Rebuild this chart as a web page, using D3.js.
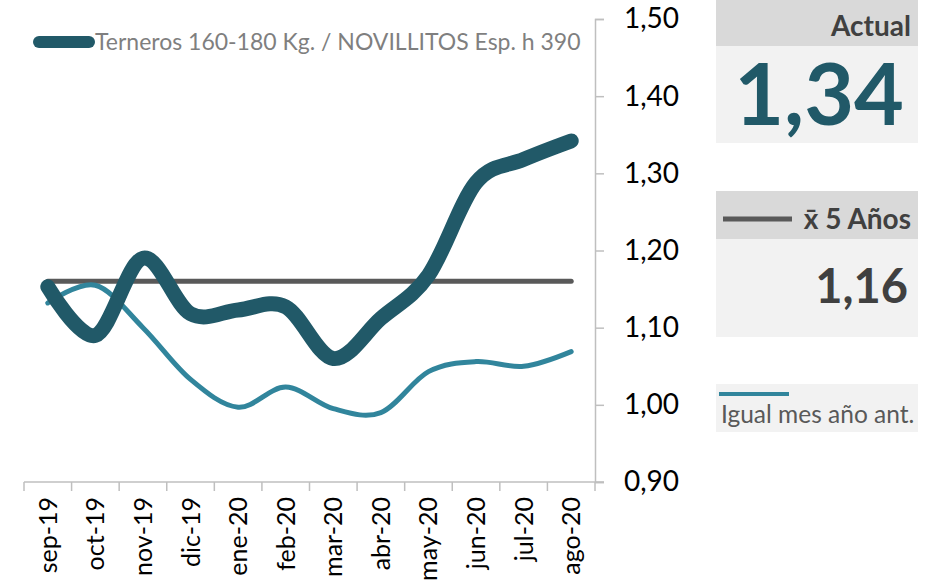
<!DOCTYPE html>
<html>
<head>
<meta charset="utf-8">
<script src="https://cdn.jsdelivr.net/npm/d3@7"></script>
<style>
  body { margin: 0; background: #fff; }
  svg { font-family: Lato, 'Open Sans', sans-serif; }
</style>
</head>
<body>
<div id="chart"></div>
<script>
const width = 941;
const height = 583;

// Data =================================================================
const months = ['sep-19', 'oct-19', 'nov-19', 'dic-19', 'ene-20', 'feb-20', 'mar-20', 'abr-20', 'may-20', 'jun-20', 'jul-20', 'ago-20'];
const ratioActual = [1.153, 1.09, 1.19, 1.118, 1.123, 1.127, 1.06, 1.112, 1.168, 1.288, 1.318, 1.342];
const ratioPrevYear = [1.132, 1.155, 1.1, 1.033, 0.997, 1.023, 0.995, 0.99, 1.043, 1.056, 1.05, 1.069];
const avg5Years = 1.16;
const yTicks = [0.9, 1.0, 1.1, 1.2, 1.3, 1.4, 1.5];
const legendLabel = 'Terneros 160-180 Kg. / NOVILLITOS Esp. h 390';
// =================================================================

const fmt = (v) => d3.format('.2f')(v).replace('.', ',');

const svg = d3.select('#chart').append('svg').attr('width', width).attr('height', height);

// Scales
const xScale = d3.scaleBand().domain(months).range([24, 595]);
const yScale = d3.scaleLinear().domain([0.9, 1.5]).range([482, 19]);
const xc = (d) => xScale(d) + xScale.bandwidth() / 2;

// Axes ================================================================
const xAxis = svg.append('g').attr('transform', `translate(0, ${yScale(0.9)})`);
xAxis.append('line').attr('x1', 24).attr('x2', 604).attr('stroke', '#bfbfbf').attr('stroke-width', 1.5);
xAxis
	.selectAll('.xtick')
	.data(months.concat(['end']))
	.enter()
	.append('line')
	.attr('x1', (d, i) => 24 + i * xScale.bandwidth())
	.attr('x2', (d, i) => 24 + i * xScale.bandwidth())
	.attr('y1', 0)
	.attr('y2', 9)
	.attr('stroke', '#bfbfbf')
	.attr('stroke-width', 1.5);
xAxis
	.selectAll('.xlabel')
	.data(months)
	.enter()
	.append('text')
	.attr('transform', (d) => `translate(${xc(d) + 9}, 15) rotate(-90)`)
	.attr('text-anchor', 'end')
	.attr('font-size', 25)
	.attr('fill', '#000')
	.text((d) => d);

const yAxis = d3.axisRight(yScale).tickValues(yTicks).tickSize(9).tickFormat(fmt);
const yG = svg.append('g').attr('transform', 'translate(595, 0)').call(yAxis);
yG.select('.domain').attr('stroke', '#bfbfbf').attr('stroke-width', 1.5);
yG.selectAll('.tick line').attr('stroke', '#bfbfbf').attr('stroke-width', 1.5);
yG.selectAll('.tick text')
	.attr('x', 29)
	.attr('font-size', 28)
	.attr('font-family', 'Lato, sans-serif')
	.attr('fill', '#000');

// Lines ================================================================
const line = d3
	.line()
	.x((d, i) => xc(months[i]))
	.y((d) => yScale(d))
	.curve(d3.curveCardinal.tension(0));

svg.append('line')
	.attr('x1', xc(months[0]))
	.attr('x2', xc(months[months.length - 1]))
	.attr('y1', yScale(avg5Years))
	.attr('y2', yScale(avg5Years))
	.attr('stroke', '#595959')
	.attr('stroke-width', 5)
	.attr('stroke-linecap', 'round');

svg.append('path')
	.datum(ratioPrevYear)
	.attr('d', line)
	.attr('fill', 'none')
	.attr('stroke', '#31859c')
	.attr('stroke-width', 5)
	.attr('stroke-linecap', 'round');

svg.append('path')
	.datum(ratioActual)
	.attr('d', line)
	.attr('fill', 'none')
	.attr('stroke', '#215968')
	.attr('stroke-width', 15)
	.attr('stroke-linecap', 'round')
	.attr('stroke-linejoin', 'round');

// Legend ================================================================
svg.append('line')
	.attr('x1', 39)
	.attr('x2', 89)
	.attr('y1', 42)
	.attr('y2', 42)
	.attr('stroke', '#215968')
	.attr('stroke-width', 12)
	.attr('stroke-linecap', 'round');
svg.append('text').attr('x', 95).attr('y', 50).attr('font-size', 23).attr('fill', '#7f7f7f').text(legendLabel);

// Side panels ================================================================
const panel = svg.append('g');
panel.append('rect').attr('x', 716).attr('y', 0).attr('width', 202).attr('height', 46).attr('fill', '#d9d9d9');
panel.append('rect').attr('x', 716).attr('y', 46).attr('width', 202).attr('height', 97).attr('fill', '#f2f2f2');
panel.append('text')
	.attr('x', 911)
	.attr('y', 36)
	.attr('text-anchor', 'end')
	.attr('font-size', 28)
	.attr('font-weight', 'bold')
	.attr('fill', '#404040')
	.text('Actual');
panel.append('text')
	.attr('x', 904)
	.attr('y', 125)
	.attr('text-anchor', 'end')
	.attr('font-size', 86)
	.attr('font-weight', 'bold')
	.attr('fill', '#215968')
	.text(fmt(ratioActual[ratioActual.length - 1]));

panel.append('rect').attr('x', 716).attr('y', 191).attr('width', 202).attr('height', 48).attr('fill', '#d9d9d9');
panel.append('rect').attr('x', 716).attr('y', 239).attr('width', 202).attr('height', 98).attr('fill', '#f2f2f2');
panel.append('line')
	.attr('x1', 723)
	.attr('x2', 792)
	.attr('y1', 219)
	.attr('y2', 219)
	.attr('stroke', '#595959')
	.attr('stroke-width', 5);
panel.append('text')
	.attr('x', 911)
	.attr('y', 229)
	.attr('text-anchor', 'end')
	.attr('font-size', 28)
	.attr('font-weight', 'bold')
	.attr('fill', '#404040')
	.text('x\u0304 5 Años');
panel.append('text')
	.attr('x', 908)
	.attr('y', 303)
	.attr('text-anchor', 'end')
	.attr('font-size', 47)
	.attr('font-weight', 'bold')
	.attr('fill', '#404040')
	.text(fmt(avg5Years));

panel.append('rect').attr('x', 716).attr('y', 384).attr('width', 202).attr('height', 48).attr('fill', '#f2f2f2');
panel.append('line')
	.attr('x1', 719)
	.attr('x2', 789)
	.attr('y1', 394)
	.attr('y2', 394)
	.attr('stroke', '#31859c')
	.attr('stroke-width', 4);
panel.append('text').attr('x', 721).attr('y', 423).attr('font-size', 24.5).attr('fill', '#595959').text('Igual mes año ant.');
</script>
</body>
</html>
